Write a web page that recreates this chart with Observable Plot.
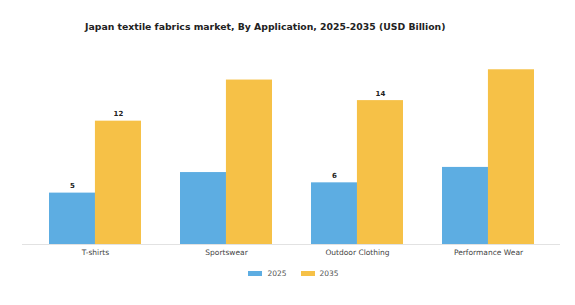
<!DOCTYPE html>
<html>
<head>
<meta charset="utf-8">
<script src="https://cdn.jsdelivr.net/npm/d3@7"></script>
<script src="https://cdn.jsdelivr.net/npm/@observablehq/plot@0.6"></script>
<style>
  html, body { margin: 0; padding: 0; background: #fff; }
  body { width: 575px; height: 305px; font-family: "DejaVu Sans", sans-serif; overflow: hidden; }
  #title { height: 52px; line-height: 54px; font-size: 9.3px; font-weight: bold; color: #222; text-align: left; padding-left: 85px; white-space: nowrap; }
  #legend { display: flex; justify-content: center; align-items: center; font-size: 7.5px; color: #555; margin-top: 2px; padding-left: 12px; }
  .sw { display: inline-block; width: 14px; height: 5px; margin-right: 5px; }
  .item { display: flex; align-items: center; margin: 0 7px; }
</style>
</head>
<body>
<div id="title">Japan textile fabrics market, By Application, 2025-2035 (USD Billion)</div>
<div id="chart"></div>
<div id="legend"></div>
<script>
const categories = ["T-shirts", "Sportswear", "Outdoor Clothing", "Performance Wear"];
const years = ["2025", "2035"];
const values2025 = [5, 7, 6, 7.5];
const values2035 = [12, 16, 14, 17];
const labeledCategories = ["T-shirts", "Outdoor Clothing"];
const colors = ["#5dade2", "#f6c147"];

const rows = categories.map((c, i) => ({category: c, v2025: values2025[i], v2035: values2035[i]}));
const labelRows = rows.filter(d => labeledCategories.includes(d.category));

const W = 575, ML = 22, MR = 15;
const step = (W - ML - MR) / (categories.length - 0.3 + 0.4);
const half = step * 0.7 / 2;

const plot = Plot.plot({
  width: W,
  height: 215,
  marginLeft: ML,
  marginRight: MR,
  marginTop: 7,
  marginBottom: 23,
  style: {fontFamily: "DejaVu Sans, sans-serif", background: "#fff"},
  x: {domain: categories, paddingInner: 0.3, paddingOuter: 0.2, label: null, tickSize: 0, tickPadding: 5, fontSize: 7.5},
  y: {domain: [0, 18], axis: null},
  marks: [
    Plot.barY(rows, {x: "category", y: "v2025", fill: colors[0], insetLeft: 0, insetRight: half}),
    Plot.barY(rows, {x: "category", y: "v2035", fill: colors[1], insetLeft: half, insetRight: 0}),
    Plot.ruleY([0], {stroke: "#e2e2e2", strokeWidth: 1}),
    Plot.text(labelRows, {x: "category", y: "v2025", text: d => String(d.v2025), dx: -half / 2, dy: -7, fontSize: 7, fontWeight: "bold", fill: "#222"}),
    Plot.text(labelRows, {x: "category", y: "v2035", text: d => String(d.v2035), dx: half / 2, dy: -7, fontSize: 7, fontWeight: "bold", fill: "#222"}),
    Plot.axisX({tickSize: 0, tickPadding: 5, fontSize: 7.5, color: "#444", label: null})
  ]
});
document.getElementById("chart").appendChild(plot);

const legend = document.getElementById("legend");
years.forEach((y, i) => {
  const item = document.createElement("span");
  item.className = "item";
  item.innerHTML = `<span class="sw" style="background:${colors[i]}"></span><span>${y}</span>`;
  legend.appendChild(item);
});
</script>
</body>
</html>
